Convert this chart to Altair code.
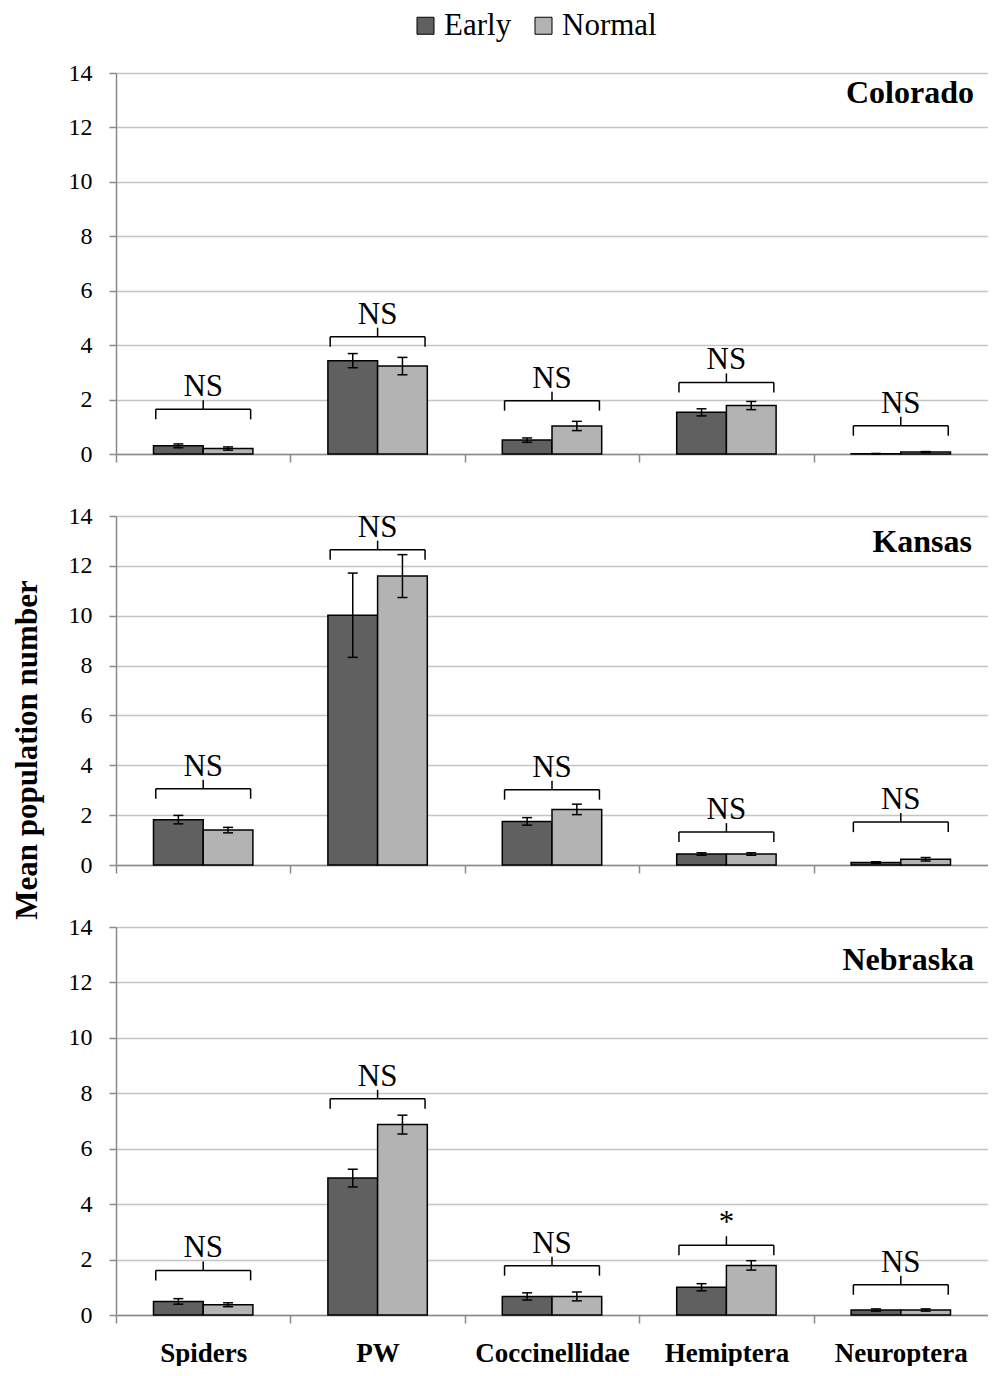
import altair as alt
import pandas as pd

# ---------------- data ----------------
categories = ["Spiders", "PW", "Coccinellidae", "Hemiptera", "Neuroptera"]
series = ["Early", "Normal"]
states = ["Colorado", "Kansas", "Nebraska"]
y_ticks = [0, 2, 4, 6, 8, 10, 12, 14]
y_title = "Mean population number"

co_early = [0.30, 3.43, 0.51, 1.53, 0.01]
co_early_se = [0.07, 0.26, 0.08, 0.13, 0.01]
co_normal = [0.20, 3.23, 1.03, 1.78, 0.07]
co_normal_se = [0.06, 0.32, 0.17, 0.15, 0.02]
co_bracket = [1.64, 4.31, 1.96, 2.63, 1.04]
co_sig = ["NS", "NS", "NS", "NS", "NS"]

ks_early = [1.82, 10.02, 1.75, 0.44, 0.10]
ks_early_se = [0.17, 1.69, 0.15, 0.05, 0.03]
ks_normal = [1.40, 11.59, 2.23, 0.44, 0.23]
ks_normal_se = [0.11, 0.86, 0.21, 0.05, 0.07]
ks_bracket = [3.06, 12.65, 3.02, 1.32, 1.72]
ks_sig = ["NS", "NS", "NS", "NS", "NS"]

ne_early = [0.49, 4.94, 0.67, 1.00, 0.18]
ne_early_se = [0.10, 0.32, 0.13, 0.13, 0.04]
ne_normal = [0.37, 6.87, 0.67, 1.79, 0.18]
ne_normal_se = [0.07, 0.34, 0.16, 0.17, 0.04]
ne_bracket = [1.61, 7.80, 1.78, 2.52, 1.09]
ne_sig = ["NS", "NS", "NS", "*", "NS"]

panels = {
    "Colorado": dict(Early=co_early, Early_se=co_early_se, Normal=co_normal,
                     Normal_se=co_normal_se, bracket=co_bracket, sig=co_sig),
    "Kansas": dict(Early=ks_early, Early_se=ks_early_se, Normal=ks_normal,
                   Normal_se=ks_normal_se, bracket=ks_bracket, sig=ks_sig),
    "Nebraska": dict(Early=ne_early, Early_se=ne_early_se, Normal=ne_normal,
                     Normal_se=ne_normal_se, bracket=ne_bracket, sig=ne_sig),
}

# ---------------- style ----------------
FONT = "Liberation Serif"
DARK = "#606060"
LIGHT = "#b3b3b3"
AXC = "#8a8a8a"
GRID = "#c4c4c4"
W = 872
BAR_W = 0.285
BR_HALF = 0.272
N = len(categories)

xscale = alt.Scale(domain=[-0.5, N - 0.5], nice=False, zero=False)
yscale = alt.Scale(domain=[0, 14], nice=False)

label_list = "[" + ",".join("'" + c + "'" for c in categories) + "]"
label_expr = label_list + "[round(datum.value + 0.5)]"


def X(field):
    return alt.X(field, type="quantitative", scale=xscale, title=None)


def Y(field):
    return alt.Y(field, type="quantitative", scale=yscale, title=None)


def make_panel(state, height, title_y, title_dx, show_labels, legend, ytitle):
    d = panels[state]
    rows = []
    for i, c in enumerate(categories):
        for j, s in enumerate(series):
            m = d[s][i]
            e = d[s + "_se"][i]
            x0 = i - BAR_W + j * BAR_W
            rows.append(dict(cat=c, series=s, x0=x0, x1=x0 + BAR_W,
                             xc=x0 + BAR_W / 2, mean=m, lo=max(m - e, 0),
                             hi=m + e, zero=0))
    bars_df = pd.DataFrame(rows)
    idx = list(range(N))
    br_df = pd.DataFrame(dict(xl=[i - BR_HALF for i in idx],
                              xr=[i + BR_HALF for i in idx],
                              xm=idx, by=d["bracket"], label=d["sig"]))
    ends_df = pd.DataFrame(dict(x=[i - BR_HALF for i in idx] + [i + BR_HALF for i in idx],
                                by=d["bracket"] * 2))

    x_axis = alt.Axis(values=[i - 0.5 for i in range(N)],
                      grid=False, domainColor=AXC, domainWidth=1.5,
                      tickColor=AXC, tickWidth=1.5, tickSize=8,
                      labels=show_labels, labelExpr=label_expr,
                      labelOffset=W / N / 2, labelPadding=17,
                      labelFont=FONT, labelFontSize=27, labelFontWeight="bold",
                      labelColor="black", labelFlush=False, labelOverlap=False,
                      title=None)
    y_axis = alt.Axis(values=y_ticks, grid=True, gridColor=GRID, gridWidth=1.5,
                      domainColor=AXC, domainWidth=1.5, tickColor=AXC, tickWidth=1.5,
                      tickSize=7, labelPadding=17, labelFont=FONT, labelFontSize=24,
                      labelColor="black", title=None)

    if legend:
        leg = alt.Legend(orient="none", legendX=294, legendY=-63,
                         direction="horizontal", title=None,
                         symbolType="square", symbolSize=289,
                         symbolStrokeColor="black", symbolStrokeWidth=1,
                         symbolOpacity=1, labelFont=FONT, labelFontSize=31,
                         labelColor="black", labelOffset=3, columnPadding=16,
                         padding=0)
    else:
        leg = None

    bars = alt.Chart(bars_df).mark_bar(stroke="black", strokeWidth=1.5, opacity=1).encode(
        x=alt.X("x0:Q", scale=xscale, axis=x_axis, title=None),
        x2="x1:Q",
        y=alt.Y("mean:Q", scale=yscale, axis=y_axis, title=None),
        y2="zero:Q",
        color=alt.Color("series:N", scale=alt.Scale(domain=series, range=[DARK, LIGHT]),
                        legend=leg),
    )
    err = alt.Chart(bars_df).mark_rule(color="black", strokeWidth=1.5).encode(
        x=X("xc"), y=Y("lo"), y2="hi:Q")
    cap_hi = alt.Chart(bars_df).mark_rule(color="black", strokeWidth=1.5,
                                          xOffset=-5, x2Offset=5).encode(
        x=X("xc"), x2="xc:Q", y=Y("hi"))
    cap_lo = alt.Chart(bars_df).mark_rule(color="black", strokeWidth=1.5,
                                          xOffset=-5, x2Offset=5).encode(
        x=X("xc"), x2="xc:Q", y=Y("lo"))
    br_h = alt.Chart(br_df).mark_rule(color="black", strokeWidth=1.5).encode(
        x=X("xl"), x2="xr:Q", y=Y("by"))
    br_ends = alt.Chart(ends_df).mark_rule(color="black", strokeWidth=1.5,
                                           y2Offset=10).encode(
        x=X("x"), y=Y("by"), y2="by:Q")
    br_mid = alt.Chart(br_df).mark_rule(color="black", strokeWidth=1.5,
                                        y2Offset=-9).encode(
        x=X("xm"), y=Y("by"), y2="by:Q")
    sig = alt.Chart(br_df).mark_text(font=FONT, fontSize=31, color="black",
                                     baseline="alphabetic", align="center",
                                     dy=-13).encode(
        x=X("xm"), y=Y("by"), text="label:N")
    ttl = alt.Chart(pd.DataFrame({"t": [state]})).mark_text(
        font=FONT, fontSize=32, fontWeight="bold", color="black",
        align="right", baseline="alphabetic").encode(
        x=alt.value(W - title_dx), y=alt.value(title_y), text="t:N")
    layers = [bars, err, cap_hi, cap_lo, br_h, br_ends, br_mid, sig, ttl]
    if ytitle:
        yt = alt.Chart(pd.DataFrame({"t": [ytitle]})).mark_text(
            font=FONT, fontSize=31, fontWeight="bold", color="black",
            align="center", baseline="middle", angle=270).encode(
            x=alt.value(-88), y=alt.value(234), text="t:N")
        layers.append(yt)
    return alt.layer(*layers).properties(width=W, height=height)


colorado = make_panel("Colorado", 381, 30, 14, False, True, None)
kansas = make_panel("Kansas", 349, 36, 16, False, False, y_title)
nebraska = make_panel("Nebraska", 388, 43, 14, True, False, None)

chart = alt.vconcat(colorado, kansas, nebraska, spacing=62, bounds="flush").resolve_scale(
    color="independent").resolve_legend(color="independent").properties(
    padding={"top": 2, "left": 3, "right": 0, "bottom": 0}).configure_view(stroke=None)

chart.save("out.html", embed_options={"renderer": "svg", "actions": False})
